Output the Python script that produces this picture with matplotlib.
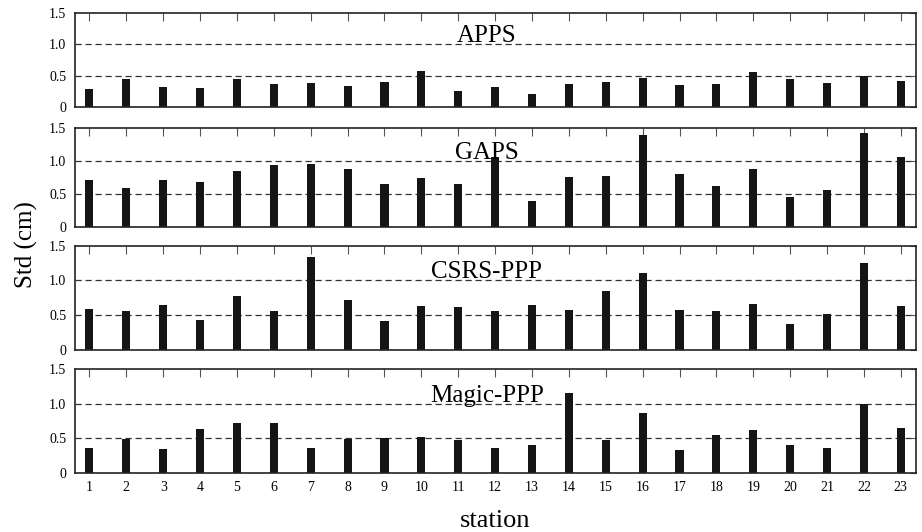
import matplotlib
matplotlib.use('Agg')
import matplotlib.pyplot as plt

plt.rcParams['font.family'] = ['Liberation Serif', 'DejaVu Serif']

stations = list(range(1, 24))
apps = [0.29, 0.45, 0.32, 0.30, 0.44, 0.37, 0.38, 0.34, 0.39, 0.58, 0.26,
        0.31, 0.21, 0.37, 0.39, 0.46, 0.35, 0.37, 0.56, 0.44, 0.38, 0.49, 0.41]
gaps = [0.71, 0.59, 0.71, 0.68, 0.85, 0.94, 0.95, 0.88, 0.66, 0.74, 0.66,
        1.06, 0.39, 0.76, 0.77, 1.40, 0.80, 0.62, 0.88, 0.45, 0.56, 1.43, 1.07]
csrs = [0.58, 0.56, 0.65, 0.42, 0.77, 0.56, 1.34, 0.71, 0.41, 0.63, 0.61,
        0.55, 0.65, 0.57, 0.84, 1.11, 0.57, 0.56, 0.66, 0.37, 0.52, 1.25, 0.63]
magic = [0.36, 0.49, 0.35, 0.63, 0.72, 0.72, 0.36, 0.49, 0.50, 0.52, 0.47,
         0.36, 0.41, 1.15, 0.47, 0.87, 0.33, 0.55, 0.62, 0.41, 0.36, 0.99, 0.65]
names = ['APPS', 'GAPS', 'CSRS-PPP', 'Magic-PPP']
series = [apps, gaps, csrs, magic]

# panel positions (left, bottom, width, height) in figure fractions
panelBoxes = [[0.081, 0.799, 0.912, 0.177],
              [0.081, 0.573, 0.912, 0.186],
              [0.081, 0.343, 0.912, 0.195],
              [0.081, 0.111, 0.912, 0.195]]

fig = plt.figure(figsize=(9.22, 5.32), dpi=100)

for i in range(4):
    ax = fig.add_axes(panelBoxes[i])
    for y in [0.5, 1.0]:
        ax.axhline(y, color='#333333', lw=0.9, ls=(0, (5, 3)), zorder=1)
    ax.bar(stations, series[i], width=0.22, color='#151515', zorder=2)
    ax.text(0.49, 1.03, names[i], transform=ax.get_yaxis_transform(),
            ha='center', va='baseline', fontsize=18, zorder=3)
    ax.set_xlim(0.6, 23.4)
    ax.set_ylim(0, 1.5)
    ax.set_yticks([0, 0.5, 1.0, 1.5])
    ax.set_yticklabels(['0', '0.5', '1.0', '1.5'], fontsize=10)
    ax.set_xticks(stations)
    ax.tick_params(axis='x', direction='in', top=True, bottom=False,
                   length=6, width=0.8, color='#555555', pad=6)
    ax.tick_params(axis='y', direction='in', left=False, right=True,
                   length=4, width=0.8, pad=6, color='#555555')
    if i == 3:
        ax.set_xticklabels([str(s) for s in stations], fontsize=10)
        ax.set_xlabel('station', fontsize=19, labelpad=11)
    else:
        ax.set_xticklabels([])
    for s in ax.spines.values():
        s.set_linewidth(1.2)
        s.set_color('#222222')

fig.text(0.029, 0.54, 'Std (cm)', rotation=90, ha='center', va='center', fontsize=18)

fig.savefig('out.png', dpi=100)
